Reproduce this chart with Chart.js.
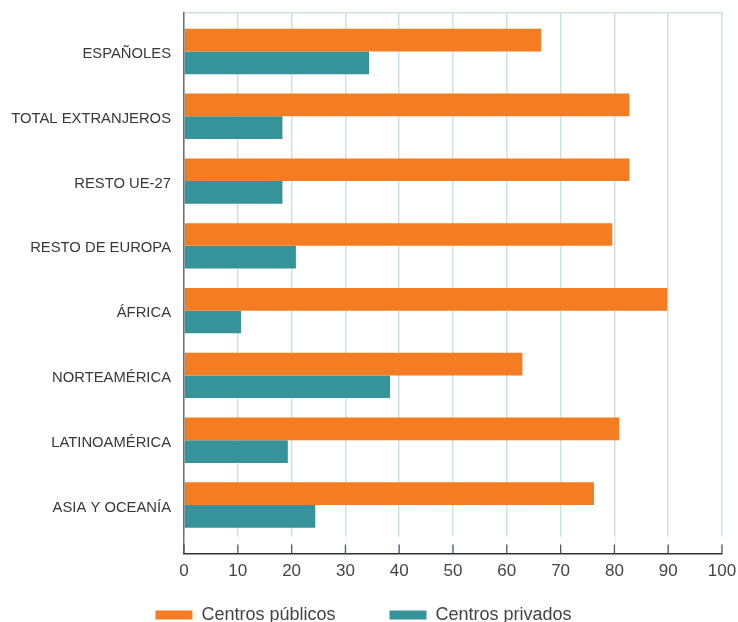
<!DOCTYPE html>
<html>
<head>
<meta charset="utf-8">
<script src="https://cdn.jsdelivr.net/npm/chart.js@4.4.0/dist/chart.umd.min.js"></script>
<style>
  html, body { margin: 0; padding: 0; background: #fff; overflow: hidden; }
  #wrap { position: relative; width: 738px; height: 671px; }
</style>
</head>
<body>
<div id="wrap"><canvas id="CentrosChart"></canvas></div>
<script>
const categories = ['ESPAÑOLES', 'TOTAL EXTRANJEROS', 'RESTO UE-27', 'RESTO DE EUROPA',
  'ÁFRICA', 'NORTEAMÉRICA', 'LATINOAMÉRICA', 'ASIA Y OCEANÍA'];
const publicos = [66.4, 82.8, 82.8, 79.6, 89.8, 62.9, 80.9, 76.2];
const privados = [34.4, 18.3, 18.3, 20.8, 10.6, 38.3, 19.3, 24.4];
const seriesNames = ['Centros públicos', 'Centros privados'];

Chart.defaults.font.family = "'Liberation Sans', Arial, sans-serif";

// marcas de eje hacia dentro + hueco blanco sobre la línea base
const innerTicks = {
  id: 'innerTicks',
  afterDatasetsDraw(chart) {
    const x = chart.scales.x;
    const ctx = chart.ctx;
    const bottom = chart.chartArea.bottom;
    ctx.save();
    x.ticks.forEach(function(t){
      const px = x.getPixelForValue(t.value);
      ctx.strokeStyle = '#ffffff';
      ctx.lineWidth = 2;
      ctx.beginPath(); ctx.moveTo(px, bottom - 17); ctx.lineTo(px, bottom - 9); ctx.stroke();
      ctx.strokeStyle = '#555555';
      ctx.lineWidth = 1.2;
      ctx.beginPath(); ctx.moveTo(px, bottom - 9); ctx.lineTo(px, bottom); ctx.stroke();
    });
    ctx.restore();
  }
};

// subir la leyenda (el espaciado horizontal obliga a un padding grande)
const legendShift = {
  id: 'legendShift',
  afterLayout(chart) {
    chart.legend.top -= 37;
    chart.legend.bottom -= 37;
  }
};

function noPad(scale){
  scale.paddingTop = 0; scale.paddingBottom = 0;
  scale.paddingLeft = 0; scale.paddingRight = 0;
}

const ctx = document.getElementById('CentrosChart');
const data = {
  datasets: [
    {
      label: seriesNames[0],
      data: publicos.map(function(v, i){ return {x: v, y: i}; }),
      backgroundColor: '#f47c22',
      borderWidth: 0,
      categoryPercentage: 0.7,
      barPercentage: 1.0
    },
    {
      label: seriesNames[1],
      data: privados.map(function(v, i){ return {x: v, y: i}; }),
      backgroundColor: '#37939a',
      borderWidth: 0,
      categoryPercentage: 0.7,
      barPercentage: 1.0
    }
  ]
};

const option = {
  indexAxis: 'y',
  responsive: true,
  maintainAspectRatio: false,
  animation: false,
  layout: { padding: { top: 13, right: 16, left: 5, bottom: 0 } },
  scales: {
    x: {
      type: 'linear',
      position: 'bottom',
      min: 0,
      max: 100,
      afterFit: noPad,
      ticks: { stepSize: 10, padding: 7.5, color: '#444', font: { size: 17 } },
      grid: { color: '#cde1e6', lineWidth: 1.5, drawTicks: false },
      border: { color: '#333', width: 1.5 }
    },
    x2: {
      type: 'linear',
      position: 'top',
      min: 0,
      max: 100,
      afterFit: function(scale){ noPad(scale); scale.height = 0; },
      ticks: { display: false },
      grid: { display: false, drawTicks: false },
      border: { color: '#cde1e6', width: 1.5 }
    },
    y: {
      type: 'linear',
      reverse: true,
      offset: false,
      min: -0.594,
      max: 7.75,
      afterFit: function(scale){ noPad(scale); scale.width = 179; },
      ticks: {
        stepSize: 1,
        autoSkip: false,
        includeBounds: false,
        padding: 13,
        labelOffset: 2.5,
        color: '#383838',
        font: { size: 14.8 },
        callback: function(v){ return categories[v] !== undefined ? categories[v] : ''; }
      },
      grid: { display: false, drawTicks: false },
      border: { color: 'rgba(70,70,70,0.75)', width: 1.5, z: 1 }
    }
  },
  plugins: {
    legend: {
      position: 'bottom',
      labels: {
        boxWidth: 37,
        boxHeight: 9,
        padding: 54,
        color: '#444',
        font: { size: 18 }
      }
    },
    tooltip: { enabled: false }
  }
};

const config = {
  type: 'bar',
  data: data,
  options: option,
  plugins: [innerTicks, legendShift]
};
const myChart = new Chart(ctx, config);
</script>
</body>
</html>
